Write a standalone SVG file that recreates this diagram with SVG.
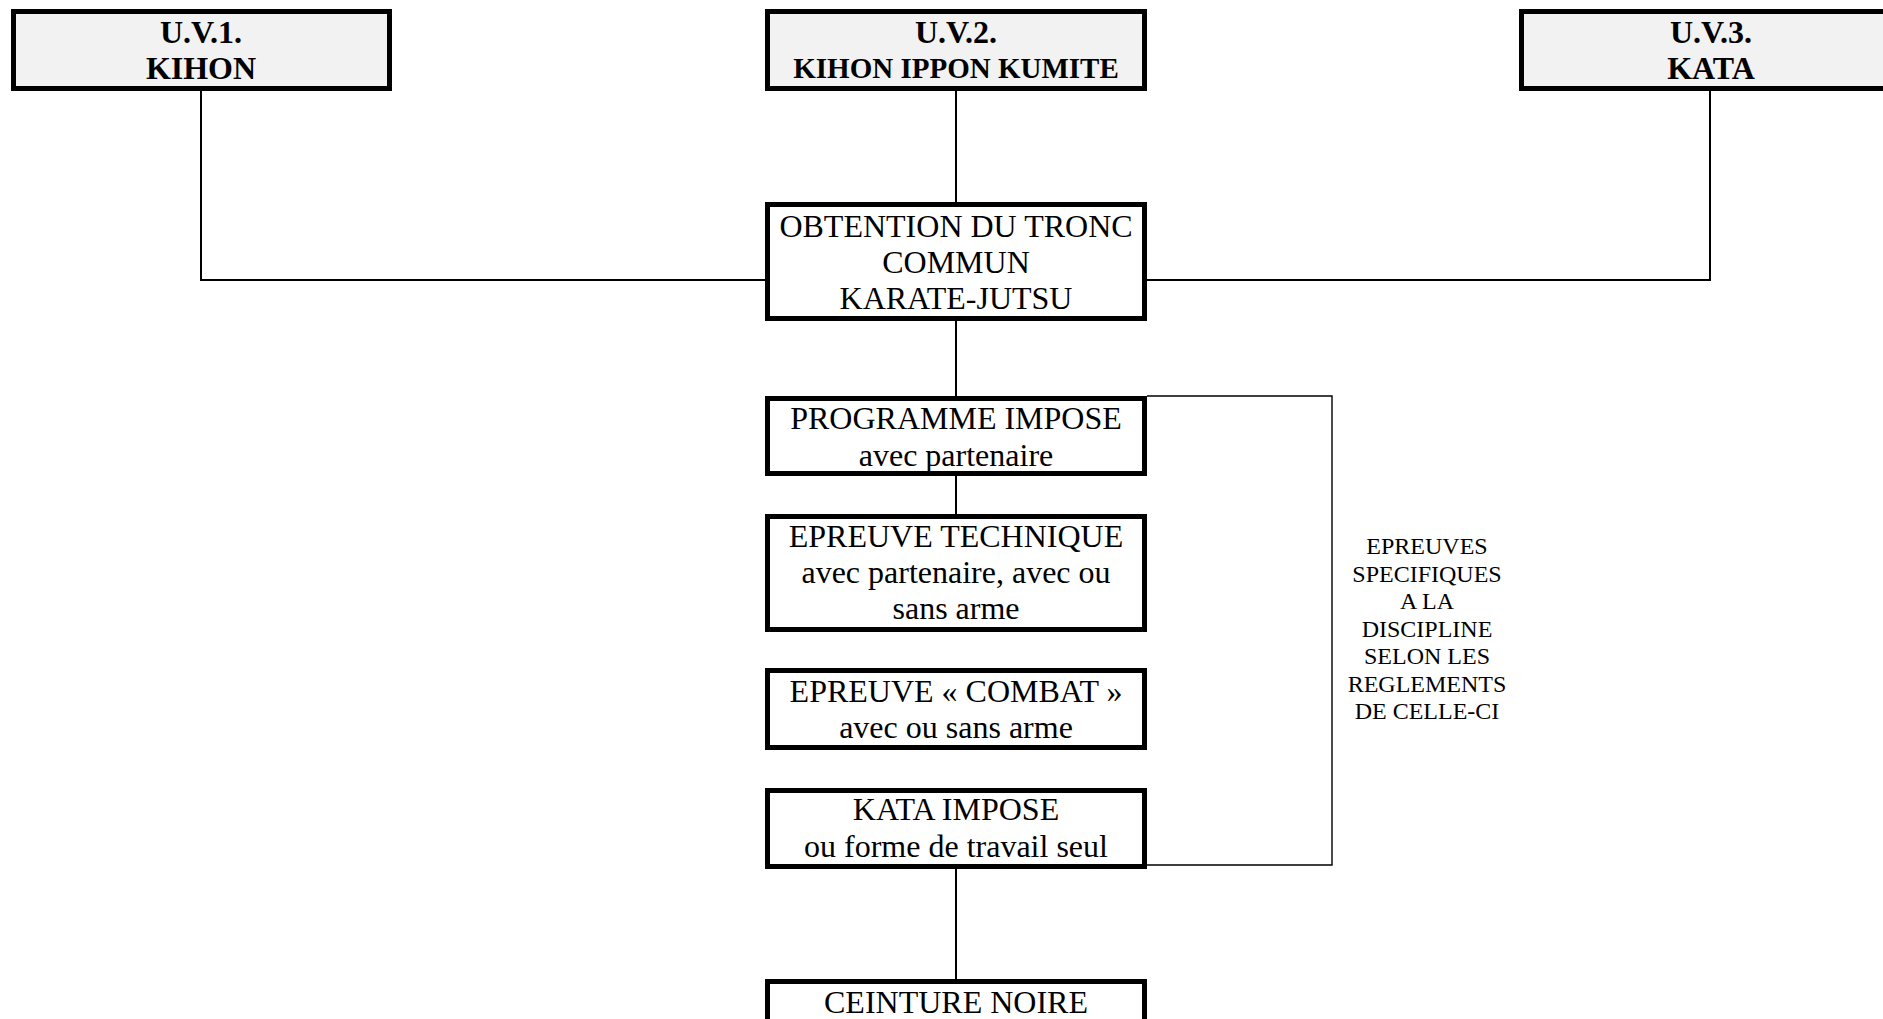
<svg xmlns="http://www.w3.org/2000/svg" width="1883" height="1019" viewBox="0 0 1883 1019">
<style>
.uv{fill:#f2f2f2;stroke:#000;stroke-width:5}
.bx{fill:#fff;stroke:#000;stroke-width:5}
.b{font-family:"Liberation Serif",serif;font-weight:bold;font-size:32px;text-anchor:middle;fill:#000}
.t{font-family:"Liberation Serif",serif;font-size:32px;text-anchor:middle;fill:#000}
.s{font-family:"Liberation Serif",serif;font-size:24px;text-anchor:middle;fill:#000}
.c{fill:none;stroke:#000;stroke-width:2}
.br{fill:none;stroke:#000;stroke-width:1.4}
</style>
<rect width="1883" height="1019" fill="#fff"/>
<g id="connectors">
<path class="c" d="M201 91 V280 H767"/>
<path class="c" d="M1710 91 V280 H1145"/>
<path class="c" d="M956 91 V204"/>
<path class="c" d="M956 319 V398"/>
<path class="c" d="M956 474 V516"/>
<path class="c" d="M956 867 V981"/>
<path class="br" d="M1147 396 H1332 V865 H1147"/>
</g>
<g id="uv1">
<rect class="uv" x="13.5" y="11.5" width="376" height="77"/>
<text class="b" x="201" y="43">U.V.1.</text>
<text class="b" x="201" y="79">KIHON</text>
</g>
<g id="uv2">
<rect class="uv" x="767.5" y="11.5" width="377" height="77"/>
<text class="b" x="956" y="43">U.V.2.</text>
<text class="b" x="956" y="78" style="font-size:29px">KIHON IPPON KUMITE</text>
</g>
<g id="uv3">
<rect class="uv" x="1521.5" y="11.5" width="377" height="77"/>
<text class="b" x="1711" y="43">U.V.3.</text>
<text class="b" x="1711" y="79">KATA</text>
</g>
<g id="tronc">
<rect class="bx" x="767.5" y="204.5" width="377" height="114"/>
<text class="t" x="956" y="237">OBTENTION DU TRONC</text>
<text class="t" x="956" y="273">COMMUN</text>
<text class="t" x="956" y="309">KARATE-JUTSU</text>
</g>
<g id="programme">
<rect class="bx" x="767.5" y="398.5" width="377" height="75"/>
<text class="t" x="956" y="429">PROGRAMME IMPOSE</text>
<text class="t" x="956" y="466">avec partenaire</text>
</g>
<g id="technique">
<rect class="bx" x="767.5" y="516.5" width="377" height="113"/>
<text class="t" x="956" y="547">EPREUVE TECHNIQUE</text>
<text class="t" x="956" y="583">avec partenaire, avec ou</text>
<text class="t" x="956" y="619">sans arme</text>
</g>
<g id="combat">
<rect class="bx" x="767.5" y="670.5" width="377" height="77"/>
<text class="t" x="956" y="702">EPREUVE « COMBAT »</text>
<text class="t" x="956" y="738">avec ou sans arme</text>
</g>
<g id="kata">
<rect class="bx" x="767.5" y="790.5" width="377" height="76"/>
<text class="t" x="956" y="820">KATA IMPOSE</text>
<text class="t" x="956" y="857">ou forme de travail seul</text>
</g>
<g id="ceinture">
<rect class="bx" x="767.5" y="981.5" width="377" height="80"/>
<text class="t" x="956" y="1013">CEINTURE NOIRE</text>
</g>
<g id="epreuves">
<text class="s" x="1427" y="554">EPREUVES</text>
<text class="s" x="1427" y="582">SPECIFIQUES</text>
<text class="s" x="1427" y="609">A LA</text>
<text class="s" x="1427" y="637">DISCIPLINE</text>
<text class="s" x="1427" y="664">SELON LES</text>
<text class="s" x="1427" y="692">REGLEMENTS</text>
<text class="s" x="1427" y="719">DE CELLE-CI</text>
</g>
</svg>
